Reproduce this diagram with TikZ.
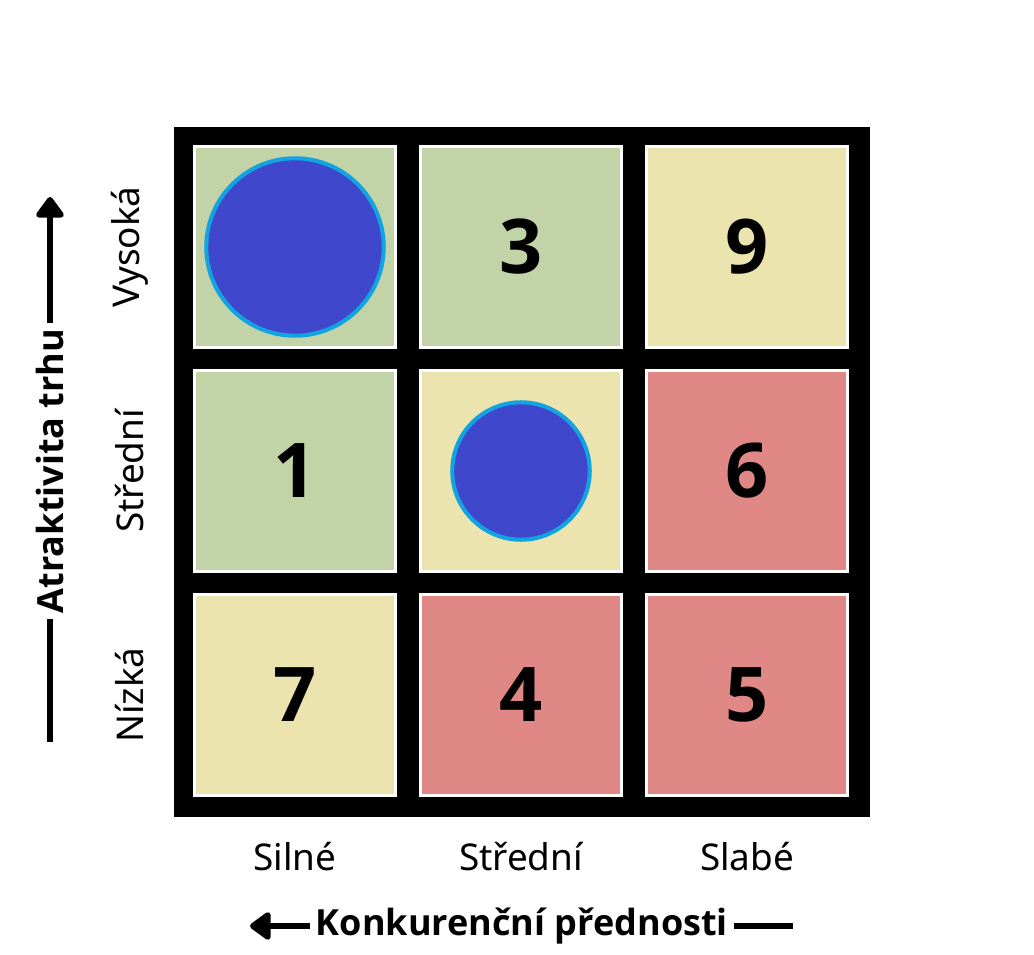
\documentclass[tikz,border=0pt]{standalone}
\usepackage{fontspec}
\setmainfont{Open Sans}
\newfontfamily\ticklabelfont{Noto Sans}
\usetikzlibrary{arrows.meta, positioning, calc}
\definecolor{gegreen}{HTML}{C2D4A7}
\definecolor{geyellow}{HTML}{EBE4AE}
\definecolor{gered}{HTML}{DF8886}
\definecolor{gedot}{HTML}{3F48CC}
\definecolor{gering}{HTML}{12A4E0}
\tikzset{
  frame/.style={rectangle, fill=black, minimum width=13.92cm, minimum height=13.8cm, inner sep=0pt},
  cell/.style={rectangle, minimum width=4.04cm, minimum height=4.04cm, draw=white, line width=1.7pt,
    inner sep=0pt, font=\fontsize{43}{43}\selectfont\bfseries},
  dot/.style={circle, draw=gering, fill=gedot, line width=2.3pt, inner sep=0pt},
  ticklbl/.style={font=\ticklabelfont\fontsize{21}{21}\selectfont},
  axtitle/.style={font=\fontsize{20.5}{20.5}\selectfont\bfseries, inner sep=3pt},
  axarr/.style={-{Triangle[length=13pt, width=18pt, round]}, line width=3.8pt},
  axline/.style={line width=3.8pt},
}
\begin{document}
\begin{tikzpicture}[x=0.02cm, y=-0.02cm]
  \useasboundingbox (0,0) rectangle (1034,955);
  \node[frame] (grid) at (522,472) {};
  % cells: name/x/y/colour/label
  \foreach \n/\x/\y/\c/\t in {c11/295/247/gegreen/, c12/521/247/gegreen/3, c13/747/247/geyellow/9,
    c21/295/471/gegreen/1, c22/521/471/geyellow/, c23/747/471/gered/6,
    c31/295/695/geyellow/7, c32/521/695/gered/4, c33/747/695/gered/5}
    \node[cell, fill=\c] (\n) at (\x,\y) {\t};
  \node[dot, minimum size=3.55cm] (bigdot) at (c11) {};
  \node[dot, minimum size=2.75cm] (smalldot) at (c22) {};
  % row labels
  \foreach \n/\r/\t in {vys/c11/Vysoká, str/c21/Střední, niz/c31/Nízká}
    \node[ticklbl, rotate=90] (\n) at ($(\r)+(-165,0)$) {\t};
  % column labels
  \foreach \n/\col/\t in {siln/c11/Silné, stred/c12/Střední, slab/c13/Slabé}
    \node[ticklbl] (\n) at ($(\col |- 0,857)$) {\t};
  % axes
  \node[axtitle] (comp) at (522,926) {Konkurenční přednosti};
  \coordinate (compTip) at (250,926);
  \coordinate (compEnd) at (793,926);
  \draw[axarr] (comp.west) -- (compTip);
  \draw[axline] (comp.east) -- (compEnd);
  \node[axtitle, rotate=90] (attr) at (50,471) {Atraktivita trhu};
  \coordinate (attrTip) at (50,197);
  \coordinate (attrEnd) at (50,742);
  \draw[axarr] (attr.east) -- (attrTip);
  \draw[axline] (attr.west) -- (attrEnd);
\end{tikzpicture}
\end{document}
